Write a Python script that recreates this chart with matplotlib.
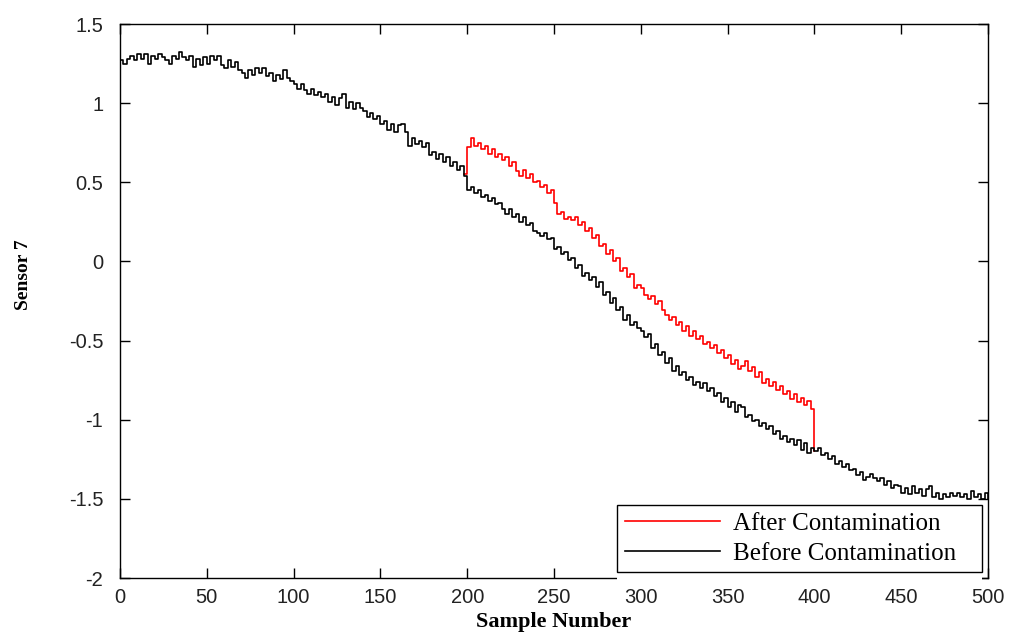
import numpy as np
import matplotlib
matplotlib.use("Agg")
import matplotlib.pyplot as plt
from matplotlib.patches import Rectangle

# sample numbers 0..500, step 2
x_before = np.arange(0, 501, 2)
before = [
    1.27, 1.25, 1.28, 1.30, 1.27, 1.31, 1.28, 1.31, 1.25, 1.30, 1.28,
    1.31, 1.29, 1.27, 1.25, 1.30, 1.28, 1.32, 1.29, 1.27, 1.30,
    1.23, 1.28, 1.24, 1.29, 1.25, 1.30, 1.27, 1.30, 1.24, 1.22,
    1.27, 1.23, 1.26, 1.21, 1.19, 1.16, 1.21, 1.18, 1.22, 1.19,
    1.22, 1.17, 1.19, 1.14, 1.18, 1.15, 1.21, 1.16, 1.14, 1.12,
    1.09, 1.12, 1.08, 1.06, 1.09, 1.05, 1.07, 1.04, 1.06, 1.01,
    1.04, 0.99, 1.03, 1.06, 0.97, 1.01, 0.96, 1.00, 0.97, 0.95,
    0.91, 0.94, 0.90, 0.92, 0.87, 0.89, 0.83, 0.87, 0.82, 0.86,
    0.87, 0.82, 0.73, 0.78, 0.74, 0.76, 0.72, 0.75, 0.67, 0.69,
    0.65, 0.68, 0.63, 0.66, 0.60, 0.63, 0.58, 0.60, 0.54, 0.45,
    0.47, 0.43, 0.45, 0.41, 0.42, 0.38, 0.40, 0.36, 0.37, 0.33,
    0.30, 0.33, 0.28, 0.30, 0.25, 0.28, 0.23, 0.24, 0.19, 0.18,
    0.16, 0.18, 0.14, 0.15, 0.08, 0.09, 0.05, 0.06, 0.01, 0.02,
    -0.04, -0.02, -0.09, -0.07, -0.12, -0.10, -0.16, -0.13, -0.21, -0.19,
    -0.26, -0.23, -0.31, -0.29, -0.37, -0.34, -0.40, -0.38, -0.42, -0.44,
    -0.48, -0.46, -0.55, -0.52, -0.59, -0.57, -0.64, -0.61, -0.69, -0.66,
    -0.72, -0.70, -0.75, -0.73, -0.78, -0.76, -0.80, -0.77, -0.82, -0.80,
    -0.85, -0.83, -0.89, -0.86, -0.92, -0.89, -0.95, -0.91, -0.92, -0.98,
    -0.97, -1.01, -1.00, -1.04, -1.02, -1.06, -1.04, -1.09, -1.07, -1.12,
    -1.10, -1.14, -1.12, -1.16, -1.13, -1.19, -1.15, -1.21, -1.18, -1.20,
    -1.18, -1.22, -1.21, -1.25, -1.23, -1.28, -1.26, -1.30, -1.28, -1.32,
    -1.31, -1.35, -1.33, -1.38, -1.36, -1.34, -1.37, -1.39, -1.37, -1.41,
    -1.39, -1.43, -1.41, -1.42, -1.46, -1.43, -1.47, -1.42, -1.46, -1.44,
    -1.48, -1.44, -1.42, -1.49, -1.46, -1.50, -1.47, -1.49, -1.46, -1.48,
    -1.46, -1.49, -1.47, -1.50, -1.45, -1.49, -1.47, -1.50, -1.46, -1.50,
]

# contaminated segment, samples 198..400
x_after = np.arange(198, 401, 2)
after = [
    0.55,
    0.72, 0.78, 0.73, 0.75, 0.71, 0.73, 0.68, 0.71, 0.66, 0.68,
    0.64, 0.66, 0.60, 0.63, 0.57, 0.54, 0.58, 0.53, 0.55, 0.50,
    0.51, 0.47, 0.48, 0.43, 0.45, 0.37, 0.30, 0.31, 0.27, 0.28,
    0.26, 0.28, 0.23, 0.25, 0.19, 0.21, 0.15, 0.17, 0.10, 0.11,
    0.05, 0.07, 0.00, 0.02, -0.06, -0.04, -0.10, -0.08, -0.17, -0.15,
    -0.17, -0.21, -0.24, -0.22, -0.27, -0.25, -0.31, -0.34, -0.37, -0.35,
    -0.40, -0.38, -0.44, -0.41, -0.47, -0.44, -0.49, -0.47, -0.52, -0.51,
    -0.55, -0.53, -0.58, -0.56, -0.61, -0.59, -0.65, -0.62, -0.68, -0.66,
    -0.63, -0.69, -0.67, -0.73, -0.70, -0.77, -0.74, -0.79, -0.76, -0.81,
    -0.79, -0.84, -0.82, -0.87, -0.84, -0.89, -0.86, -0.91, -0.88, -0.93,
    -1.20,
]

x_ticks = [0, 50, 100, 150, 200, 250, 300, 350, 400, 450, 500]
y_ticks = [-2, -1.5, -1, -0.5, 0, 0.5, 1, 1.5]
y_ticklabels = ['-2', '-1.5', '-1', '-0.5', '0', '0.5', '1', '1.5']

fig = plt.figure(figsize=(10.11, 6.37), dpi=100)
ax = fig.add_axes([120 / 1011, 1 - 578 / 637, 868 / 1011, 554 / 637])

ax.plot(x_after, after, color='#ff0000', lw=1.2, drawstyle='steps-post',
        label='After Contamination')
ax.plot(x_before, before, color='black', lw=1.2, drawstyle='steps-post',
        label='Before Contamination')

ax.set_xlim(0, 500)
ax.set_ylim(-2, 1.5)
ax.set_xticks(x_ticks)
ax.set_yticks(y_ticks)
ax.set_yticklabels(y_ticklabels)
ax.tick_params(direction='in', top=True, right=True, length=7, width=1,
               labelsize=14.5, labelcolor='#222222')
ax.tick_params(axis='y', pad=12)
ax.tick_params(axis='x', pad=7)
for lab in ax.get_xticklabels() + ax.get_yticklabels():
    lab.set_family('Liberation Sans')
for sp in ax.spines.values():
    sp.set_linewidth(1.0)

ax.set_xlabel('Sample Number', family='Liberation Serif', weight='bold', fontsize=16)
ax.set_ylabel('Sensor 7', family='Liberation Serif', weight='bold', fontsize=14)
ax.xaxis.set_label_coords(0.5, -0.062)
ax.yaxis.set_label_coords(-0.101, 0.547)

# white strip hiding the bottom spine under the legend
ax.add_patch(Rectangle((0.5726, -0.012), 0.42, 0.024, transform=ax.transAxes,
                       facecolor='white', edgecolor='none', clip_on=False, zorder=4))

leg = ax.legend(loc='lower left', bbox_to_anchor=(0.5726, 0.0108, 0.4205, 0.12),
                mode='expand', borderaxespad=0, fancybox=False, framealpha=1,
                edgecolor='black', prop={'family': 'Liberation Serif', 'size': 18},
                handlelength=3.8, handletextpad=0.55, labelspacing=0.28, borderpad=0.3)
leg.get_frame().set_linewidth(1.0)
leg.set_zorder(5)

fig.savefig('out.png', dpi=100)
